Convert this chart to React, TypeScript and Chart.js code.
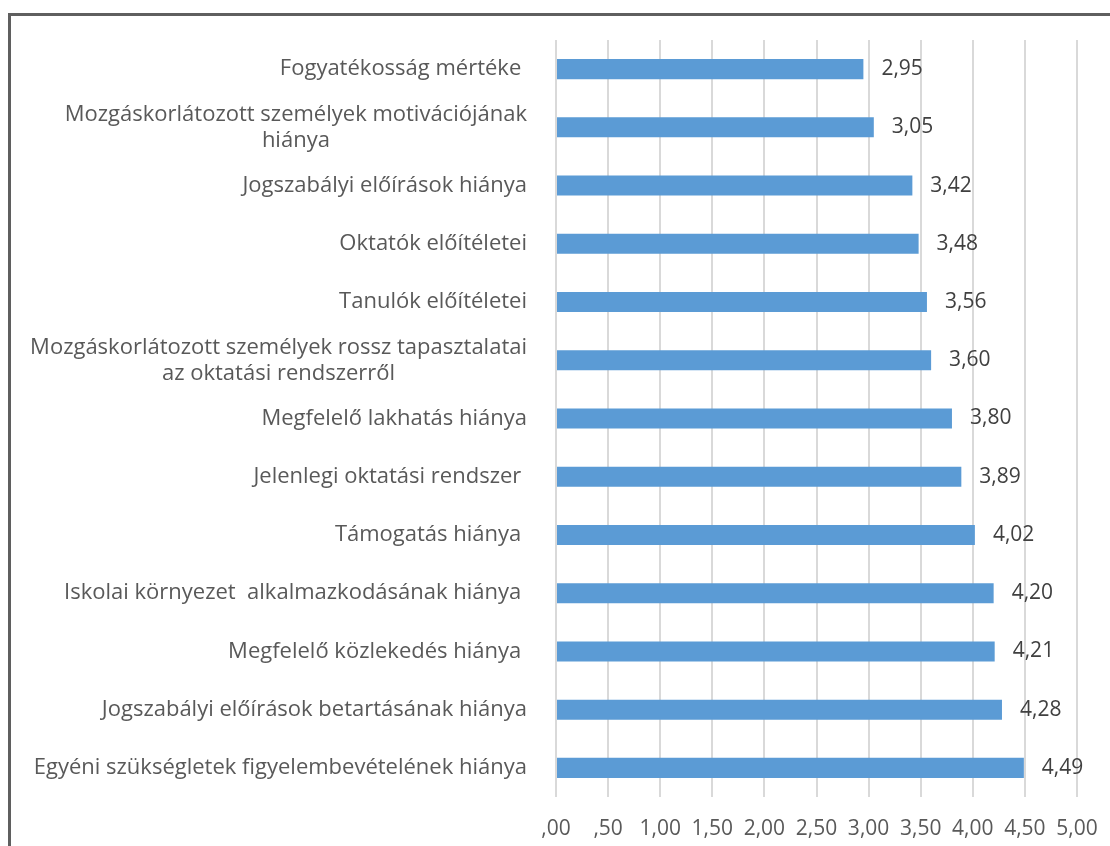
import React, { useEffect, useRef } from "react";
import { Chart, registerables } from "chart.js";

Chart.register(...registerables);

const categories: (string | string[])[] = [
  "Fogyatékosság mértéke ",
  ["Mozgáskorlátozott személyek motivációjának", "hiánya"],
  "Jogszabályi előírások hiánya",
  "Oktatók előítéletei",
  "Tanulók előítéletei",
  ["Mozgáskorlátozott személyek rossz tapasztalatai", "az oktatási rendszerről"],
  "Megfelelő lakhatás hiánya",
  "Jelenlegi oktatási rendszer ",
  "Támogatás hiánya ",
  "Iskolai környezet  alkalmazkodásának hiánya ",
  "Megfelelő közlekedés hiánya ",
  "Jogszabályi előírások betartásának hiánya",
  "Egyéni szükségletek figyelembevételének hiánya",
];

const values: number[] = [2.95, 3.05, 3.42, 3.48, 3.56, 3.6, 3.8, 3.89, 4.02, 4.2, 4.21, 4.28, 4.49];

const xTickLabels: string[] = [",00", ",50", "1,00", "1,50", "2,00", "2,50", "3,00", "3,50", "4,00", "4,50", "5,00"];

const FONT = "'Open Sans', 'Noto Sans', sans-serif";
const TEXT = "#595959";

const fmt = (v: number) => v.toFixed(2).replace(".", ",");

const categoryLabelPlugin = {
  id: "categoryLabels",
  afterDraw(chart: any) {
    const ctx = chart.ctx;
    const scale = chart.scales.y;
    const rightEdge = chart.chartArea.left - 29;
    const lineH = 26;
    ctx.save();
    ctx.font = `22px ${FONT}`;
    ctx.fillStyle = TEXT;
    ctx.textBaseline = "middle";
    ctx.textAlign = "center";
    categories.forEach((lab, i) => {
      const lines = Array.isArray(lab) ? lab : [lab];
      const widest = Math.max(...lines.map((l) => ctx.measureText(l).width));
      const cx = rightEdge - widest / 2;
      const cy = scale.getPixelForTick(i);
      const start = cy - ((lines.length - 1) * lineH) / 2;
      lines.forEach((l, j) => ctx.fillText(l, cx, start + j * lineH));
    });
    ctx.restore();
  },
};

const valueLabelPlugin = {
  id: "valueLabels",
  afterDatasetsDraw(chart: any) {
    const ctx = chart.ctx;
    const meta = chart.getDatasetMeta(0);
    ctx.save();
    ctx.font = `21px ${FONT}`;
    ctx.fillStyle = "#404040";
    ctx.textBaseline = "middle";
    ctx.textAlign = "left";
    meta.data.forEach((el: any, i: number) => {
      ctx.fillText(fmt(values[i]), el.x + 18, el.y);
    });
    ctx.restore();
  },
};

export default function App() {
  const ref = useRef<HTMLCanvasElement | null>(null);

  useEffect(() => {
    if (!ref.current) return;
    const chart = new Chart(ref.current, {
      type: "bar",
      data: {
        labels: categories,
        datasets: [
          {
            data: values,
            backgroundColor: "#5B9BD5",
            borderWidth: 0,
            barPercentage: 0.86,
            categoryPercentage: 0.4,
          },
        ],
      },
      options: {
        indexAxis: "y",
        responsive: false,
        animation: false,
        layout: { padding: { top: 40, right: 33, bottom: 0, left: 0 } },
        plugins: {
          legend: { display: false },
          tooltip: { enabled: false },
        },
        scales: {
          x: {
            min: 0,
            max: 5,
            ticks: {
              stepSize: 0.5,
              padding: 19,
              maxRotation: 0,
              color: TEXT,
              font: { family: FONT, size: 21 },
              callback: (_v: any, i: number) => xTickLabels[i],
            },
            grid: { color: "#D9D9D9", lineWidth: 2, drawTicks: false },
            border: { display: false },
            afterFit: (s: any) => {
              s.height = 49;
              s.paddingLeft = 0;
              s.paddingRight = 0;
            },
          },
          y: {
            ticks: { display: false },
            grid: { display: false },
            border: { display: false },
            afterFit: (s: any) => {
              s.width = 556;
            },
          },
        },
      },
      plugins: [categoryLabelPlugin, valueLabelPlugin],
    });
    return () => chart.destroy();
  }, []);

  return (
    <div
      style={{
        position: "fixed",
        left: 0,
        top: 0,
        width: 1110,
        height: 846,
        overflow: "hidden",
        background: "#fff",
      }}
    >
      <div
        style={{
          position: "absolute",
          left: 8,
          top: 13,
          width: 1300,
          height: 1000,
          borderTop: "3px solid #5f5f5f",
          borderLeft: "3px solid #5f5f5f",
        }}
      />
      <canvas
        ref={ref}
        width={1110}
        height={846}
        style={{ position: "absolute", left: 0, top: 0, width: 1110, height: 846 }}
      />
    </div>
  );
}
